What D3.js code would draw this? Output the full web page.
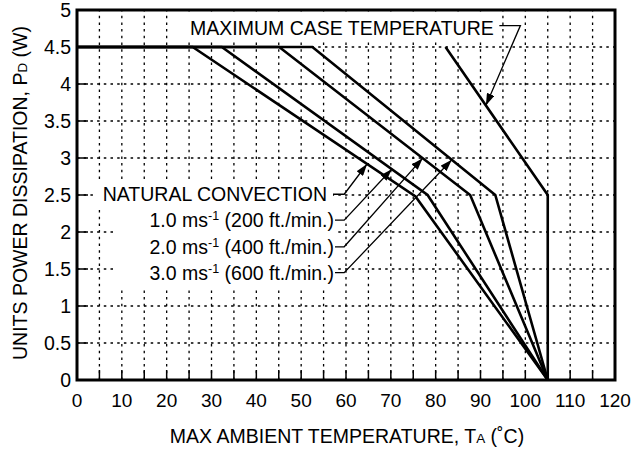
<!DOCTYPE html>
<html><head><meta charset="utf-8">
<script src="https://cdn.jsdelivr.net/npm/d3@7/dist/d3.min.js"></script>
<style>
body{margin:0;background:#fff}
svg{display:block}
text{font-family:"Liberation Sans",Arial,Helvetica,sans-serif;fill:#000}
</style>
</head><body>
<svg id="chart" width="635" height="460"></svg>
<script>
// ---- data ----
const xTickValues = [0,10,20,30,40,50,60,70,80,90,100,110,120];
const xTickLabels = ["0","10","20","30","40","50","60","70","80","90","100","110","120"];
const yTickValues = [0,0.5,1,1.5,2,2.5,3,3.5,4,4.5,5];
const yTickLabels = ["0","0.5","1","1.5","2","2.5","3","3.5","4","4.5","5"];
const xGridValues = [5,10,15,20,25,30,35,40,45,50,55,60,65,70,75,80,85,90,95,100,105,110,115];
const yGridValues = [0.5,1,1.5,2,2.5,3,3.5,4,4.5];

const naturalT = [0, 25.8, 75.5, 105];
const naturalP = [4.5, 4.5, 2.48, 0];
const air1T = [0, 32.3, 78.2, 105];
const air1P = [4.5, 4.5, 2.5, 0];
const air2T = [0, 45.1, 87.7, 105];
const air2P = [4.5, 4.5, 2.5, 0];
const air3T = [0, 52.5, 93.3, 105];
const air3P = [4.5, 4.5, 2.5, 0];
const maxCaseT = [82.2, 105, 105];
const maxCaseP = [4.5, 2.5, 0];

const curveNames = ["NATURAL CONVECTION", "1.0 ms-1 (200 ft./min.)", "2.0 ms-1 (400 ft./min.)", "3.0 ms-1 (600 ft./min.)"];
const speedValues = ["1.0", "2.0", "3.0"];
const speedFeet = ["200", "400", "600"];
const arrowTipT = [64.7, 70.2, 77.1, 83.6];
const labelRowP = [2.51, 2.16, 1.8, 1.45];
const maxCaseLabel = "MAXIMUM CASE TEMPERATURE";
const maxCaseArrowT = 91.2;

// ---- layout ----
const svg = d3.select("#chart");
const x = d3.scaleLinear().domain([0,120]).range([77,615]);
const y = d3.scaleLinear().domain([0,5]).range([380,10]);

// grid
const grid = svg.append("g").attr("stroke","#000").attr("stroke-width",1.3).attr("stroke-dasharray","2.5,4.2");
grid.selectAll("line.v").data(xGridValues).enter().append("line")
  .attr("x1",d=>x(d)).attr("x2",d=>x(d)).attr("y1",y(0)).attr("y2",y(5));
grid.selectAll("line.h").data(yGridValues).enter().append("line")
  .attr("x1",x(0)).attr("x2",x(120)).attr("y1",d=>y(d)).attr("y2",d=>y(d));

// white backing for annotation text
const bg = svg.append("g").attr("fill","#fff");
bg.append("rect").attr("x",185).attr("y",15).attr("width",317).attr("height",27);
bg.append("rect").attr("x",95).attr("y",183).attr("width",238).attr("height",23);
bg.append("rect").attr("x",117).attr("y",207).attr("width",221).attr("height",80);

// curves
const series = [[naturalT,naturalP],[air1T,air1P],[air2T,air2P],[air3T,air3P],[maxCaseT,maxCaseP]];
const line = d3.line().x(d=>x(d[0])).y(d=>y(d[1]));
svg.append("g").selectAll("path").data(series).enter().append("path")
  .attr("d",s=>line(s[0].map((t,i)=>[t,s[1][i]])))
  .attr("fill","none").attr("stroke","#000").attr("stroke-width",2.6).attr("stroke-linejoin","miter");

// frame
svg.append("rect").attr("x",x(0)).attr("y",y(5)).attr("width",x(120)-x(0)).attr("height",y(0)-y(5))
  .attr("fill","none").attr("stroke","#000").attr("stroke-width",3);

// ticks (inward)
const ticks = svg.append("g").attr("stroke","#000").attr("stroke-width",1.5);
ticks.selectAll("line.bx").data(xGridValues.filter(d=>d<120)).enter().append("line")
  .attr("x1",d=>x(d)).attr("x2",d=>x(d)).attr("y1",y(0)).attr("y2",y(0)-10);
ticks.selectAll("line.ly").data(yGridValues).enter().append("line")
  .attr("x1",x(0)).attr("x2",x(0)+11).attr("y1",d=>y(d)).attr("y2",d=>y(d));

// tick labels
svg.append("g").selectAll("text").data(xTickValues).enter().append("text")
  .attr("x",d=>x(d)).attr("y",407).attr("text-anchor","middle")
  .style("font-size","19px").text((d,i)=>xTickLabels[i]);
svg.append("g").selectAll("text").data(yTickValues).enter().append("text")
  .attr("x",71).attr("y",d=>y(d)+7).attr("text-anchor","end")
  .style("font-size","19.5px").text((d,i)=>yTickLabels[i]);

// axis titles
const xt = svg.append("text").attr("x",347).attr("y",443).attr("text-anchor","middle").style("font-size","19.5px");
xt.append("tspan").text("MAX AMBIENT TEMPERATURE, T");
xt.append("tspan").style("font-size","13.5px").text("A");
xt.append("tspan").text(" (˚C)");
const yt = svg.append("text").attr("transform","translate(27,193) rotate(-90)").attr("text-anchor","middle").style("font-size","19.5px");
yt.append("tspan").text("UNITS POWER DISSIPATION, P");
yt.append("tspan").style("font-size","13.5px").text("D");
yt.append("tspan").text(" (W)");

// arrow marker
const defs = svg.append("defs");
defs.append("marker").attr("id","arr").attr("markerUnits","userSpaceOnUse")
  .attr("viewBox","0 0 12 8").attr("refX",12).attr("refY",4)
  .attr("markerWidth",12).attr("markerHeight",8).attr("orient","auto")
  .append("path").attr("d","M0,0L12,4L0,8Z").attr("fill","#000");

function curveAt(T, P, t){
  for(let i=1;i<T.length;i++){
    if(t<=T[i]){ const f=(t-T[i-1])/(T[i]-T[i-1]); return P[i-1]+f*(P[i]-P[i-1]); }
  }
  return P[P.length-1];
}
const curveSeries = series.slice(0,4);

// NATURAL / speed labels
const annG = svg.append("g");
curveNames.forEach((name,i)=>{
  const ty = y(labelRowP[i]);
  const t = annG.append("text").attr("x", i===0 ? 327 : 334).attr("y", ty+7).attr("text-anchor","end").style("font-size","19.5px");
  if(i===0){ t.text(name); }
  else {
    t.append("tspan").text(speedValues[i-1]+" ms");
    t.append("tspan").attr("dy",-7).style("font-size","12.5px").text("-1");
    t.append("tspan").attr("dy",7).text(" ("+speedFeet[i-1]+" ft./min.)");
  }
  const tipT = arrowTipT[i];
  const tipP = curveAt(curveSeries[i][0], curveSeries[i][1], tipT);
  const x0 = i===0 ? 333 : 335;
  annG.append("path")
    .attr("d", `M${x0},${ty}L${x(59.6)},${ty}L${x(tipT)},${y(tipP)}`)
    .attr("fill","none").attr("stroke","#000").attr("stroke-width",1.3).attr("marker-end","url(#arr)");
});

// max case label
svg.append("text").attr("x",190).attr("y",35).style("font-size","19.5px").text(maxCaseLabel);
const mcP = curveAt(maxCaseT.slice(0,2), maxCaseP.slice(0,2), maxCaseArrowT);
svg.append("path")
  .attr("d", `M${x(94.2)},${y(4.79)}L${x(98.9)},${y(4.79)}L${x(maxCaseArrowT)},${y(mcP)}`)
  .attr("fill","none").attr("stroke","#000").attr("stroke-width",1.3).attr("marker-end","url(#arr)");
</script>
</body></html>
